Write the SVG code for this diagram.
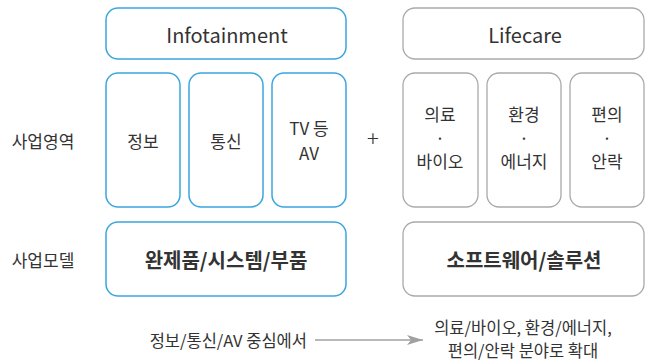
<svg xmlns="http://www.w3.org/2000/svg" width="648" height="364" viewBox="0 0 648 364">
<defs>
<style>
text{font-family:"Noto Sans CJK KR","Noto Sans",sans-serif;fill:#333;text-anchor:middle;dominant-baseline:central}
.b{fill:#fff;stroke:#3aa6de;stroke-width:1.5}
.g{fill:#fff;stroke:#aaa;stroke-width:1.3}
.t{font-size:20px}
.s{font-size:17px}
.m{font-size:20px;font-weight:600}
.l{font-size:16.5px}
</style>
<marker id="ah" viewBox="0 0 16 10" refX="16" refY="5" markerWidth="16" markerHeight="10" markerUnits="userSpaceOnUse" orient="auto">
<path d="M0,0 L16,5 L0,10 L4,5 Z" fill="#a0a0a0"/>
</marker>
</defs>
<g id="label-area"><text class="s" x="43" y="140">사업영역</text></g>
<g id="label-model"><text class="s" x="43" y="259">사업모델</text></g>
<g id="infotainment"><rect class="b" x="106" y="8" width="240" height="51" rx="12"/><text class="t" x="227" y="34">Infotainment</text></g>
<g id="info1"><rect class="b" x="106" y="73" width="74" height="134" rx="12"/><text class="s" x="143" y="140">정보</text></g>
<g id="info2"><rect class="b" x="189" y="73" width="74" height="134" rx="12"/><text class="s" x="226" y="140">통신</text></g>
<g id="info3"><rect class="b" x="272" y="73" width="74" height="134" rx="12"/><text class="s" x="309" y="127">TV 등</text><text class="s" x="309" y="152">AV</text></g>
<g id="plus"><text x="373" y="137" style="font-size:22px;font-weight:300">+</text></g>
<g id="lifecare"><rect class="g" x="403" y="8" width="241" height="51" rx="12"/><text class="t" x="525" y="34">Lifecare</text></g>
<g id="life1"><rect class="g" x="403" y="73" width="75" height="134" rx="12"/><text class="s" x="440" y="113">의료</text><text class="s" x="440" y="137">·</text><text class="s" x="440" y="160">바이오</text></g>
<g id="life2"><rect class="g" x="487" y="73" width="74" height="134" rx="12"/><text class="s" x="524" y="113">환경</text><text class="s" x="524" y="137">·</text><text class="s" x="524" y="160">에너지</text></g>
<g id="life3"><rect class="g" x="570" y="73" width="74" height="134" rx="12"/><text class="s" x="607" y="113">편의</text><text class="s" x="607" y="137">·</text><text class="s" x="607" y="160">안락</text></g>
<g id="model-info"><rect class="b" x="106" y="222" width="240" height="74" rx="12"/><text class="m" x="226" y="259">완제품/시스템/부품</text></g>
<g id="model-life"><rect class="g" x="403" y="222" width="241" height="74" rx="12"/><text class="m" x="524" y="259">소프트웨어/솔루션</text></g>
<g id="from"><text class="l" x="307" y="340" style="text-anchor:end">정보/통신/AV 중심에서</text></g>
<g id="to"><text class="l" x="523" y="327">의료/바이오, 환경/에너지,</text><text class="l" x="523" y="350">편의/안락 분야로 확대</text></g>
<g id="connectors"><line x1="315" y1="340" x2="423" y2="340" stroke="#a0a0a0" stroke-width="1.3" marker-end="url(#ah)"/></g>
</svg>
